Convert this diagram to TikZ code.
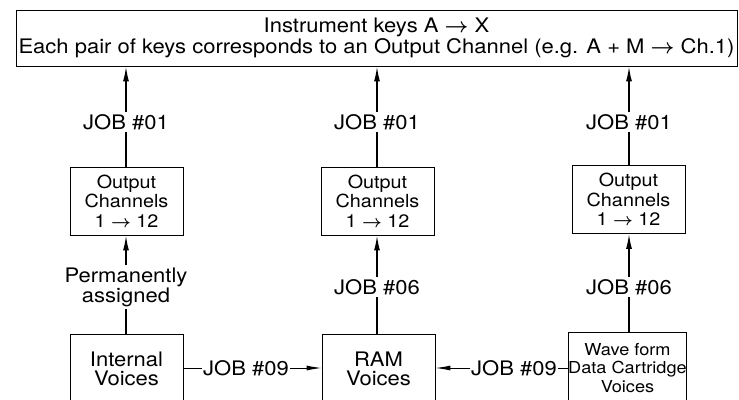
\documentclass[tikz,border=0pt]{standalone}
\usepackage{fontspec}
\setmainfont[FakeStretch=1.1]{TeX Gyre Heros}
\usetikzlibrary{arrows.meta}
\newcommand{\toarrow}{{\boldmath$\rightarrow$}}

\begin{document}
\begin{tikzpicture}[x=1pt, y=-1pt,
		box/.style = {draw, line width=0.9pt, rectangle, align=center, inner sep=0pt},
		lbl/.style = {inner sep=2pt, align=center, font=\fontsize{20}{21}\selectfont},
		arr/.style = {line width=1.4pt, -{Latex[length=15pt, width=6pt]}},
		con/.style = {line width=1.4pt}]
		\useasboundingbox (0,0) rectangle (739,399);
		\clip (0,0) rectangle (739,399);
		
		\node[box, minimum width=721, minimum height=56, font=\fontsize{20}{21}\selectfont] (keys) at (376.5, 38) {Instrument keys A \toarrow{} X\\Each pair of keys corresponds to an Output Channel (e.g. A + M \toarrow{} Ch.1)};
		
		\node[box, minimum width=113, minimum height=68, font=\fontsize{18}{19.5}\selectfont] (outL) at (126.5, 201) {Output\\Channels\\1 \toarrow{} 12};
		\node[box, minimum width=113, minimum height=68, font=\fontsize{18}{19.5}\selectfont] (outM) at (377.5, 201) {Output\\Channels\\1 \toarrow{} 12};
		\node[box, minimum width=113, minimum height=68, font=\fontsize{18}{19.5}\selectfont] (outR) at (628.5, 199.5) {Output\\Channels\\1 \toarrow{} 12};
		
		\node[box, minimum width=113, minimum height=70, font=\fontsize{20}{19}\selectfont] (internal) at (126.5, 369) {Internal\\Voices};
		\node[box, minimum width=113, minimum height=70, font=\fontsize{20}{19}\selectfont] (ram) at (378.5, 369) {RAM\\Voices};
		\node[box, minimum width=113, minimum height=72, font=\fontsize{16.5}{18.5}\selectfont] (wave) at (627.5, 368) {Wave form\\Data Cartridge\\Voices};
		
		\node[lbl] (jobL1) at (126, 122) {JOB \#01};
		\node[lbl] (jobM1) at (377, 122) {JOB \#01};
		\node[lbl] (jobR1) at (629, 122) {JOB \#01};
		\node[lbl, font=\fontsize{20}{20}\selectfont] (perm) at (126, 287) {Permanently\\assigned};
		\node[lbl] (jobM6) at (377, 287) {JOB \#06};
		\node[lbl] (jobR6) at (629, 287) {JOB \#06};
		\node[lbl, inner sep=1pt] (job9L) at (246, 368) {JOB \#09};
		\node[lbl, inner sep=1pt] (job9R) at (514, 368) {JOB \#09};
		
		% up to the keys
		\draw[con] (outL.north -| jobL1) -- (jobL1);
		\draw[arr] (jobL1) -- (jobL1 |- keys.south);
		\draw[con] (outM.north -| jobM1) -- (jobM1);
		\draw[arr] (jobM1) -- (jobM1 |- keys.south);
		\draw[con] (outR.north -| jobR1) -- (jobR1);
		\draw[arr] (jobR1) -- (jobR1 |- keys.south);
		
		% voices to channels
		\draw[con] (internal.north -| perm) -- (perm);
		\draw[arr] (perm) -- (perm |- outL.south);
		\draw[con] (ram.north -| jobM6) -- (jobM6);
		\draw[arr] (jobM6) -- (jobM6 |- outM.south);
		\draw[con] (wave.north -| jobR6) -- (jobR6);
		\draw[arr] (jobR6) -- (jobR6 |- outR.south);
		
		% copies into RAM
		\draw[line width=1pt] (job9L.west -| internal.east) -- (job9L.west);
		\draw[line width=1pt, -{Latex[length=15pt, width=5pt]}] (job9L.east) -- (job9L.east -| ram.west);
		\draw[line width=1pt] (job9R.east -| wave.west) -- (job9R.east);
		\draw[line width=1pt, -{Latex[length=15pt, width=5pt]}] (job9R.west) -- (job9R.west -| ram.east);
\end{tikzpicture}
\end{document}
